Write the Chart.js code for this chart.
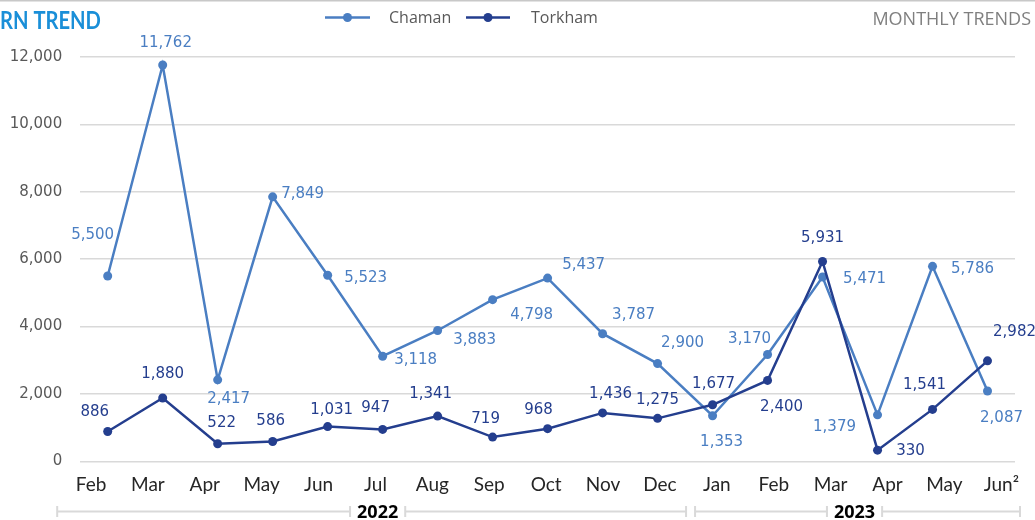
<!DOCTYPE html>
<html>
<head>
<meta charset="utf-8">
<script src="https://cdn.jsdelivr.net/npm/chart.js@4.4.0/dist/chart.umd.min.js"></script>
<style>
  html, body { margin: 0; padding: 0; background: #fff; }
  #wrap { position: relative; width: 1035px; height: 520px; }
</style>
</head>
<body>
<div id="wrap"><canvas id="trendChart"></canvas></div>
<script>
// chart data
const months = ["Feb", "Mar", "Apr", "May", "Jun", "Jul", "Aug", "Sep", "Oct", "Nov", "Dec",
                "Jan", "Feb", "Mar", "Apr", "May", "Jun\u00B2"];
const years = ["2022", "2023"];
const monthsPerYear = [11, 6];
const chamanValues = [5500, 11762, 2417, 7849, 5523, 3118, 3883, 4798, 5437, 3787, 2900,
                      1353, 3170, 5471, 1379, 5786, 2087];
const torkhamValues = [886, 1880, 522, 586, 1031, 947, 1341, 719, 968, 1436, 1275,
                       1677, 2400, 5931, 330, 1541, 2982];
const yMax = 12000;
const yStep = 2000;

// label placement (pixel offsets from each point)
const chamanLabelOffsets = [[-15, -41], [3, -22], [11, 19], [30, -3], [38, 3], [33, 4], [37, 10],
    [39, 15], [36, -13], [31, -19], [25, -20], [9, 26], [-18, -15], [42, 2], [-43, 12], [40, 3], [14, 27]];
const torkhamLabelOffsets = [[-13, -19], [0, -24], [4, -21], [-2, -20], [4, -16], [-7, -21], [-7, -22],
    [-7, -18], [-9, -19], [8, -19], [0, -18], [1, -21], [14, 27], [0, -23], [33, 1], [-8, -24], [27, -29]];

const chamanColor = "#4a7ec2";
const torkhamColor = "#243e8e";

// Header, legend, point labels and year brackets
const decorations = {
    id: "decorations",
    afterDraw(chart) {
        const ctx = chart.ctx;
        ctx.save();

        // top rule
        ctx.fillStyle = "#c8c8c8";
        ctx.fillRect(0, 0, chart.width, 1.5);

        // title (narrow bold face in the original)
        ctx.save();
        ctx.scale(0.84, 1);
        ctx.fillStyle = "#1a8fd8";
        ctx.font = "bold 24px Lato";
        ctx.textAlign = "left";
        ctx.textBaseline = "middle";
        ctx.fillText("RN TREND", 0, 21.5);
        ctx.restore();

        ctx.fillStyle = "#7f7f7f";
        ctx.font = "18px 'Open Sans'";
        ctx.textAlign = "right";
        ctx.textBaseline = "middle";
        ctx.fillText("MONTHLY TRENDS", 1031, 20);

        // legend
        const legendItems = [
            { text: "Chaman", color: chamanColor, x1: 325, x2: 370, tx: 389 },
            { text: "Torkham", color: torkhamColor, x1: 466, x2: 510, tx: 531 }
        ];
        legendItems.forEach(function (item) {
            ctx.strokeStyle = item.color;
            ctx.lineWidth = 2.5;
            ctx.beginPath();
            ctx.moveTo(item.x1, 17.5);
            ctx.lineTo(item.x2, 17.5);
            ctx.stroke();
            ctx.fillStyle = item.color;
            ctx.beginPath();
            ctx.arc((item.x1 + item.x2) / 2, 17.5, 4.5, 0, Math.PI * 2);
            ctx.fill();
            ctx.fillStyle = "#595959";
            ctx.font = "16px 'Open Sans'";
            ctx.textAlign = "left";
            ctx.fillText(item.text, item.tx, 18);
        });

        // point labels
        const labelSets = [chamanLabelOffsets, torkhamLabelOffsets];
        ctx.font = "15px 'DejaVu Sans'";
        ctx.textAlign = "center";
        ctx.textBaseline = "middle";
        chart.data.datasets.forEach(function (ds, di) {
            const meta = chart.getDatasetMeta(di);
            ctx.fillStyle = ds.borderColor;
            meta.data.forEach(function (pt, i) {
                const off = labelSets[di][i];
                ctx.fillText(ds.data[i].toLocaleString("en-US"), pt.x + off[0], pt.y + off[1]);
            });
        });

        // year brackets under the month labels
        const xs = chart.scales.x;
        const half = (xs.getPixelForValue(1) - xs.getPixelForValue(0)) / 2;
        const by = 511.5;
        let start = 0;
        const groups = [];
        monthsPerYear.forEach(function (n) {
            groups.push([xs.getPixelForValue(start) - half, xs.getPixelForValue(start + n - 1) + half]);
            start += n;
        });
        groups[0][0] -= 23;
        groups[0][1] += 1;
        groups[1][0] += 10;
        groups[1][1] += 5;

        ctx.font = "bold 18px 'Open Sans'";
        groups.forEach(function (g, gi) {
            const mid = (g[0] + g[1]) / 2 + (gi === 0 ? 6 : -3);
            const tw = ctx.measureText(years[gi]).width;
            const segs = [[g[0], mid - tw / 2 - 7], [mid + tw / 2 + 7, g[1]]];
            ctx.strokeStyle = "#d9d9d9";
            ctx.lineWidth = 2;
            segs.forEach(function (s) {
                ctx.beginPath();
                ctx.moveTo(s[0], by);
                ctx.lineTo(s[1], by);
                ctx.moveTo(s[0], by - 5.5);
                ctx.lineTo(s[0], by + 5.5);
                ctx.moveTo(s[1], by - 5.5);
                ctx.lineTo(s[1], by + 5.5);
                ctx.stroke();
            });
            ctx.fillStyle = "#000000";
            ctx.fillText(years[gi], mid, by + 1);
        });

        ctx.restore();
    }
};

const ctx = document.getElementById("trendChart").getContext("2d");

const trendChart = new Chart(ctx, {
    type: "line",
    data: {
        labels: months,
        datasets: [{
            label: "Chaman",
            data: chamanValues,
            borderColor: chamanColor,
            backgroundColor: chamanColor,
            pointBackgroundColor: chamanColor,
            borderWidth: 2.5,
            pointRadius: 4.5,
            pointBorderWidth: 0,
            tension: 0,
            order: 2
        }, {
            label: "Torkham",
            data: torkhamValues,
            borderColor: torkhamColor,
            backgroundColor: torkhamColor,
            pointBackgroundColor: torkhamColor,
            borderWidth: 2.5,
            pointRadius: 4.5,
            pointBorderWidth: 0,
            tension: 0,
            order: 1
        }]
    },
    options: {
        responsive: true,
        maintainAspectRatio: false,
        animation: false,
        devicePixelRatio: 1,
        layout: { padding: { top: 57, right: 20, left: 0, bottom: 0 } },
        plugins: {
            legend: { display: false },
            tooltip: { enabled: false }
        },
        scales: {
            // category axis that places the points
            x: {
                offset: true,
                display: false
            },
            // month labels are spread a little wider than the points in the original
            months: {
                type: "linear",
                axis: "x",
                position: "bottom",
                min: -0.19,
                max: 16.24,
                grid: { display: false },
                border: { display: false },
                afterFit: function (scale) { scale.height = 58.7; },
                ticks: {
                    stepSize: 1,
                    maxTicksLimit: 30,
                    includeBounds: false,
                    autoSkip: false,
                    maxRotation: 0,
                    padding: 4,
                    color: "#262626",
                    font: { family: "Lato", size: 19 },
                    callback: function (v) { return Number.isInteger(v) ? months[v] : ""; }
                }
            },
            y: {
                min: 0,
                max: yMax,
                afterFit: function (scale) { scale.width = 80.2; },
                grid: { color: "#d9d9d9", lineWidth: 1.5, drawTicks: false },
                border: { display: false },
                ticks: {
                    stepSize: yStep,
                    padding: 18,
                    color: "#595959",
                    font: { family: "DejaVu Sans", size: 15 },
                    callback: function (v) { return v.toLocaleString("en-US"); }
                }
            }
        }
    },
    plugins: [decorations]
});
</script>
</body>
</html>
